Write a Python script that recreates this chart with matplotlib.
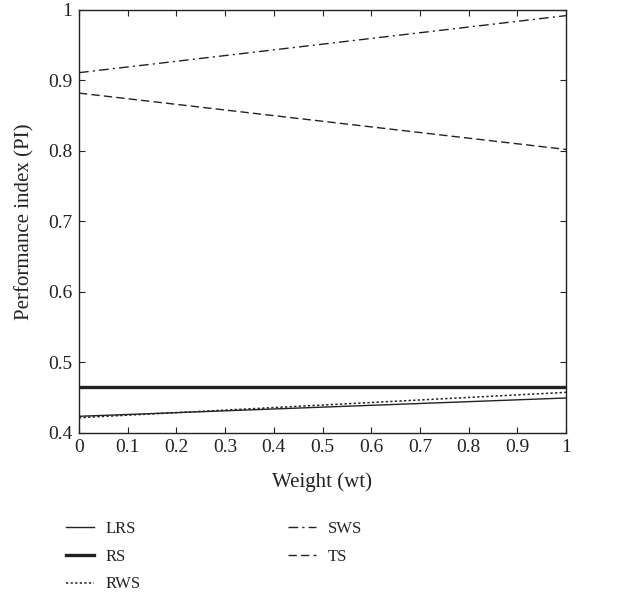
import matplotlib
matplotlib.use("Agg")
import matplotlib.pyplot as plt

weights = [0.0, 1.0]
lrs = [0.423, 0.449]
rs = [0.465, 0.465]
rws = [0.421, 0.457]
sws = [0.911, 0.992]
ts = [0.882, 0.802]

xticks = [0, 0.1, 0.2, 0.3, 0.4, 0.5, 0.6, 0.7, 0.8, 0.9, 1]
xticklabels = ["0", "0.1", "0.2", "0.3", "0.4", "0.5", "0.6", "0.7", "0.8", "0.9", "1"]
yticks = [0.4, 0.5, 0.6, 0.7, 0.8, 0.9, 1.0]
yticklabels = ["0.4", "0.5", "0.6", "0.7", "0.8", "0.9", "1"]

plt.rcParams['font.family'] = ['Liberation Serif', 'DejaVu Serif']
plt.rcParams['font.size'] = 14

fig = plt.figure(figsize=(6.36, 5.98), dpi=100)
W, H = 636, 598
ax = fig.add_axes([79 / W, 1 - 432.5 / H, (566 - 79) / W, (432.5 - 10) / H])

c = "#222222"
ax.plot(weights, lrs, color=c, lw=1.0, label="LRS")
ax.plot(weights, rs, color=c, lw=2.4, label="RS")
ax.plot(weights, rws, color=c, lw=1.1, ls=(0, (1.5, 1.5)), label="RWS")
ax.plot(weights, sws, color=c, lw=1.0, ls=(0, (7, 3, 1.5, 3)), label="SWS")
ax.plot(weights, ts, color=c, lw=1.0, ls=(0, (6, 3)), label="TS")

ax.set_xlim(0, 1)
ax.set_ylim(0.4, 1.0)
ax.set_xticks(xticks)
ax.set_xticklabels(xticklabels)
ax.set_yticks(yticks)
ax.set_yticklabels(yticklabels)
ax.tick_params(direction="in", top=True, right=True, length=4, width=0.8,
               colors=c, labelcolor=c, labelsize=14)
ax.tick_params(axis="x", pad=5)
ax.tick_params(axis="y", pad=5)
for s in ax.spines.values():
    s.set_linewidth(1.0)
    s.set_color(c)

ax.set_xlabel("Weight (wt)", color=c, fontsize=15)
ax.set_ylabel("Performance index (PI)", color=c, fontsize=15)
ax.xaxis.set_label_coords(0.5, (432.5 - 482) / (432.5 - 10), transform=ax.transAxes)
ax.xaxis.label.set_va("center")
ax.yaxis.set_label_coords((25 - 79) / (566 - 79), 0.5, transform=ax.transAxes)
ax.yaxis.label.set_va("center")

handles, labels = ax.get_legend_handles_labels()
fig.legend(handles, labels, ncol=2, frameon=False, loc="upper left",
           bbox_to_anchor=(51 / W, 1 - 506 / H), handlelength=1.7,
           handletextpad=0.7, fontsize=12,
           columnspacing=8.8, labelspacing=0.7, labelcolor=c)

fig.savefig("out.png", dpi=100)
